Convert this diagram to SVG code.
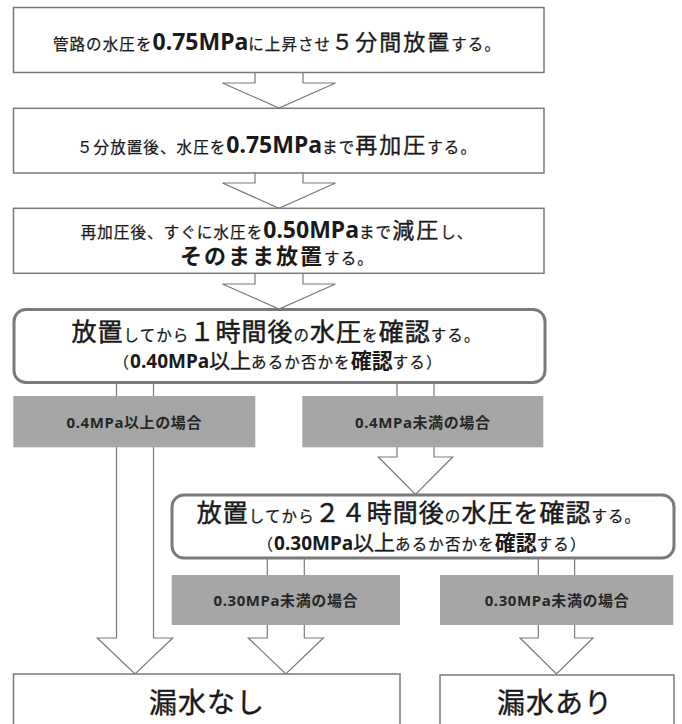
<svg xmlns="http://www.w3.org/2000/svg" width="682" height="724" viewBox="0 0 682 724">
<style>
text{font-family:"Noto Sans","Noto Sans CJK JP",sans-serif;fill:#1a1a1a;}
.s{font-family:"Noto Sans CJK JP",sans-serif;font-size:15.5px;letter-spacing:1.1px;stroke:#1a1a1a;stroke-width:0.25px;}
.L{font-family:"Noto Sans CJK JP",sans-serif;font-size:22px;letter-spacing:2px;stroke:#1a1a1a;stroke-width:0.35px;}
.Lb{font-family:"Noto Sans CJK JP",sans-serif;font-size:22px;letter-spacing:2px;font-weight:bold;}
.XL{font-family:"Noto Sans CJK JP",sans-serif;font-size:25px;letter-spacing:1px;stroke:#1a1a1a;stroke-width:0.5px;}
.n{font-family:"Noto Sans",sans-serif;font-size:23px;font-weight:bold;}
.m{font-family:"Noto Sans",sans-serif;font-size:19px;font-weight:bold;}
.M{font-family:"Noto Sans CJK JP",sans-serif;font-size:21px;stroke:#1a1a1a;stroke-width:0.4px;}
.Mb{font-family:"Noto Sans CJK JP",sans-serif;font-size:21px;font-weight:bold;}
.lab{font-family:"Noto Sans","Noto Sans CJK JP",sans-serif;font-size:15px;font-weight:bold;letter-spacing:0.6px;fill:#262626;}
.big{font-family:"Noto Sans CJK JP",sans-serif;font-size:28px;letter-spacing:1px;stroke:#1a1a1a;stroke-width:0.4px;}
.box{fill:#fff;stroke:#7a7a7a;stroke-width:1.5;}
.rbox{fill:#fff;stroke:#7a7a7a;stroke-width:3;}
.gray{fill:#a6a6a6;}
.arr{fill:#fff;stroke:#7a7a7a;stroke-width:1.2;stroke-linejoin:miter;}
</style>

<g id="connectors">
  <path class="arr" d="M255,72 V83 H222.5 L279,108 L335.5,83 H303 V72"/>
  <path class="arr" d="M255,173 V183 H222.5 L279,208.3 L335.5,183 H303 V173"/>
  <path class="arr" d="M255,273 V284 H222.5 L279,309 L335.5,284 H303 V273"/>
  <path class="arr" d="M116.5,383 V638 H97.3 L135,674 L172.7,638 H153.5 V383"/>
  <path class="arr" d="M397,383 V457 H378.3 L415.5,494.5 L452.7,457 H434 V383"/>
  <path class="arr" d="M267.3,558 V638 H248.3 L285.8,674 L323.3,638 H304.3 V558"/>
  <path class="arr" d="M538.3,558 V638 H520 L556.5,674 L593,638 H574.6 V558"/>
</g>

<g id="n1">
  <rect class="box" x="13.5" y="7.5" width="530.5" height="65"/>
  <text x="277" y="50" text-anchor="middle"><tspan class="s">管路の水圧を</tspan><tspan class="n">0.75MPa</tspan><tspan class="s">に上昇させ</tspan><tspan class="L">５分間放置</tspan><tspan class="s">する。</tspan></text>
</g>
<g id="n2">
  <rect class="box" x="13.5" y="108.3" width="530.5" height="64.7"/>
  <text x="277" y="152.5" text-anchor="middle"><tspan class="s">５分放置後、水圧を</tspan><tspan class="n">0.75MPa</tspan><tspan class="s">まで</tspan><tspan class="L">再加圧</tspan><tspan class="s">する。</tspan></text>
</g>
<g id="n3">
  <rect class="box" x="13.5" y="208.3" width="530.5" height="65"/>
  <text x="277" y="238" text-anchor="middle"><tspan class="s">再加圧後、すぐに水圧を</tspan><tspan class="n">0.50MPa</tspan><tspan class="s">まで</tspan><tspan class="L">減圧</tspan><tspan class="s">し、</tspan></text>
  <text x="277" y="264" text-anchor="middle"><tspan class="Lb">そのまま放置</tspan><tspan class="s">する。</tspan></text>
</g>
<g id="n4">
  <rect class="rbox" x="14" y="309.5" width="531" height="73" rx="12" ry="12"/>
  <text x="276" y="341" text-anchor="middle"><tspan class="XL">放置</tspan><tspan class="s">してから</tspan><tspan class="XL">１時間後</tspan><tspan class="s">の</tspan><tspan class="XL">水圧</tspan><tspan class="s">を</tspan><tspan class="XL">確認</tspan><tspan class="s">する。</tspan></text>
  <text x="278" y="368" text-anchor="middle"><tspan class="s">（</tspan><tspan class="m">0.40MPa</tspan><tspan class="M">以上</tspan><tspan class="s">あるか否かを</tspan><tspan class="Mb">確認</tspan><tspan class="s">する）</tspan></text>
</g>
<g id="n5">
  <rect class="gray" x="13.3" y="396" width="242" height="51.3"/>
  <text class="lab" x="134.3" y="428" text-anchor="middle">0.4MPa以上の場合</text>
</g>
<g id="n6">
  <rect class="gray" x="302.3" y="396" width="241" height="51.3"/>
  <text class="lab" x="422.8" y="428" text-anchor="middle">0.4MPa未満の場合</text>
</g>
<g id="n7">
  <rect class="rbox" x="172" y="495" width="502" height="63" rx="12" ry="12"/>
  <text x="419" y="522" text-anchor="middle"><tspan class="XL">放置</tspan><tspan class="s">してから</tspan><tspan class="XL">２４時間後</tspan><tspan class="s">の</tspan><tspan class="XL">水圧を確認</tspan><tspan class="s">する。</tspan></text>
  <text x="422" y="549.5" text-anchor="middle"><tspan class="s">（</tspan><tspan class="m">0.30MPa</tspan><tspan class="M">以上</tspan><tspan class="s">あるか否かを</tspan><tspan class="Mb">確認</tspan><tspan class="s">する）</tspan></text>
</g>
<g id="n8">
  <rect class="gray" x="171.7" y="575" width="228.3" height="50"/>
  <text class="lab" x="285.8" y="606" text-anchor="middle">0.30MPa未満の場合</text>
</g>
<g id="n9">
  <rect class="gray" x="440" y="575" width="233.3" height="50"/>
  <text class="lab" x="557" y="606" text-anchor="middle">0.30MPa未満の場合</text>
</g>
<g id="n10">
  <rect class="box" x="13.5" y="674" width="386.5" height="60"/>
  <text class="big" x="207" y="713" text-anchor="middle">漏水なし</text>
</g>
<g id="n11">
  <rect class="box" x="440" y="675" width="234" height="60"/>
  <text class="big" x="555" y="713" text-anchor="middle">漏水あり</text>
</g>
</svg>
